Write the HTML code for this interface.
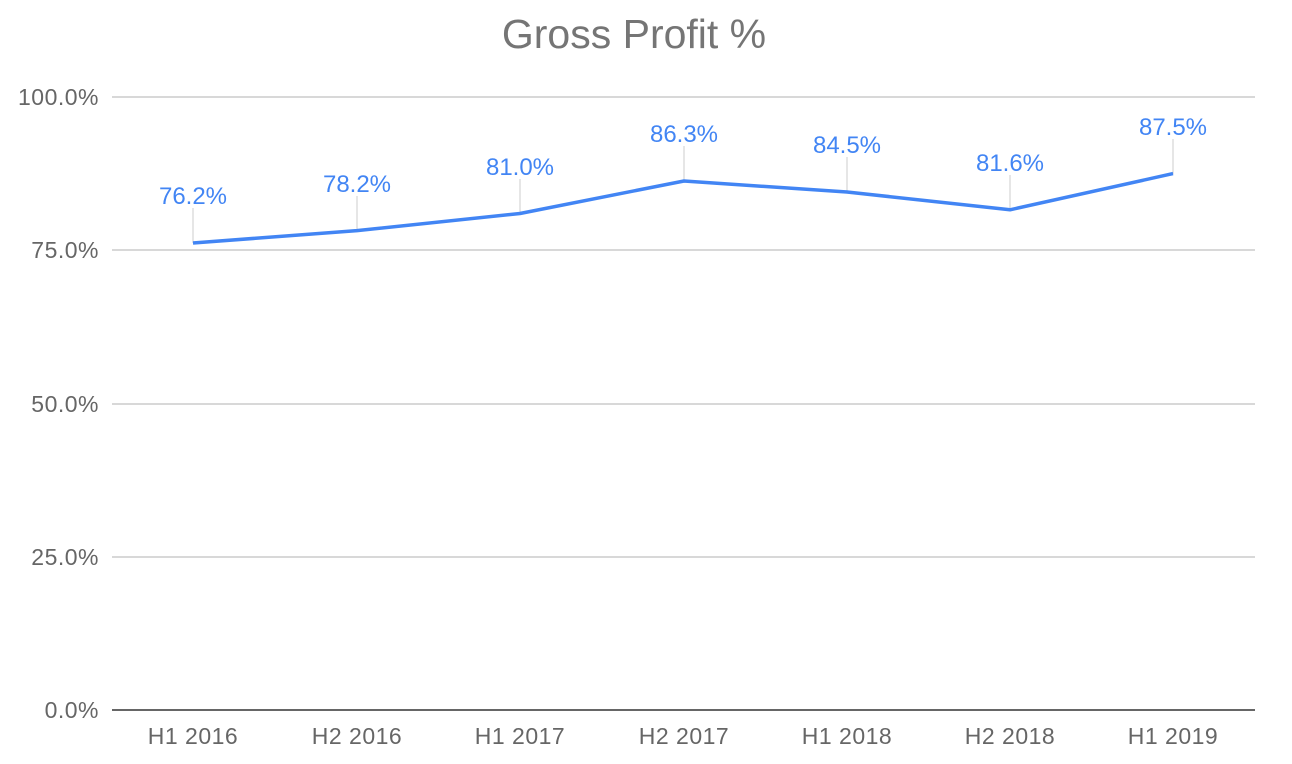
<!DOCTYPE html>
<html><head><meta charset="utf-8"><style>
html,body{margin:0;padding:0;background:#fff;}
svg{display:block;}
text{font-family:"Liberation Sans",Arial,sans-serif;}
</style></head><body>
<svg width="1292" height="764" viewBox="0 0 1292 764" xmlns="http://www.w3.org/2000/svg">
<rect width="1292" height="764" fill="#fff"/>
<text x="634" y="48" text-anchor="middle" font-size="41" fill="#757575">Gross Profit %</text>
<g stroke="#cccccc" stroke-width="1.5">
<line x1="112" y1="97" x2="1255" y2="97"/>
<line x1="112" y1="250" x2="1255" y2="250"/>
<line x1="112" y1="404" x2="1255" y2="404"/>
<line x1="112" y1="557" x2="1255" y2="557"/>
</g>
<line x1="112" y1="710" x2="1255" y2="710" stroke="#333" stroke-width="1.5"/>
<g font-size="23" fill="#666" text-anchor="end" letter-spacing="0.5">
<text x="99" y="105">100.0%</text>
<text x="99" y="258">75.0%</text>
<text x="99" y="412">50.0%</text>
<text x="99" y="565">25.0%</text>
<text x="99" y="718">0.0%</text>
</g>
<g font-size="23" fill="#666" text-anchor="middle" letter-spacing="0.5">
<text x="193" y="744">H1 2016</text>
<text x="357" y="744">H2 2016</text>
<text x="520" y="744">H1 2017</text>
<text x="684" y="744">H2 2017</text>
<text x="847" y="744">H1 2018</text>
<text x="1010" y="744">H2 2018</text>
<text x="1173" y="744">H1 2019</text>
</g>
<g stroke="#cccccc" stroke-width="1">
<line x1="193" y1="208" x2="193" y2="243"/>
<line x1="357" y1="196" x2="357" y2="231"/>
<line x1="520" y1="179" x2="520" y2="214"/>
<line x1="684" y1="146" x2="684" y2="181"/>
<line x1="847" y1="157" x2="847" y2="192"/>
<line x1="1010" y1="175" x2="1010" y2="210"/>
<line x1="1173" y1="139" x2="1173" y2="174"/>
</g>
<polyline fill="none" stroke="#4285f4" stroke-width="3.5" stroke-linejoin="round" points="193,243 357,230.6 520,213.5 684,181 847,192 1010,209.8 1173,173.6"/>
<g font-size="24" fill="#4285f4" text-anchor="middle">
<text x="193" y="204">76.2%</text>
<text x="357" y="192">78.2%</text>
<text x="520" y="175">81.0%</text>
<text x="684" y="142">86.3%</text>
<text x="847" y="153">84.5%</text>
<text x="1010" y="171">81.6%</text>
<text x="1173" y="135">87.5%</text>
</g>
</svg>
</body></html>
